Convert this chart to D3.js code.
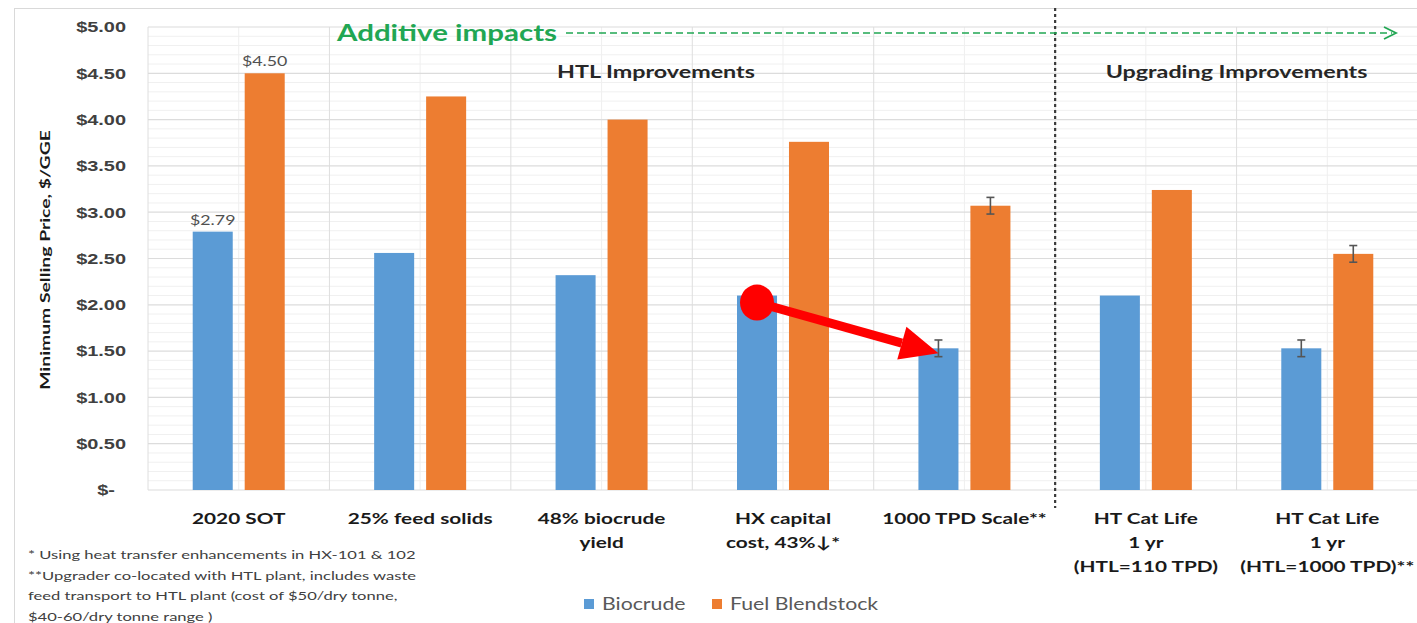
<!DOCTYPE html>
<html>
<head>
<meta charset="utf-8">
<script src="https://cdn.jsdelivr.net/npm/d3@7"></script>
<style>
  html, body { margin: 0; padding: 0; background: #ffffff; }
  svg { display: block; font-family: Lato, "Open Sans", sans-serif; }
</style>
</head>
<body>
<svg id="chart" width="1417" height="623"></svg>
<script>
// Scenario categories (x axis), each label split into lines
const categories = ["2020 SOT", "25% feed solids", "48% biocrude yield", "HX capital cost", "1000 TPD Scale", "HT Cat Life 110", "HT Cat Life 1000"];
const categoryLines = [
  ["2020 SOT"],
  ["25% feed solids"],
  ["48% biocrude", "yield"],
  ["HX capital", "cost, 43%\u2193*"],
  ["1000 TPD Scale**"],
  ["HT Cat Life", "1 yr", "(HTL=110 TPD)"],
  ["HT Cat Life", "1 yr", "(HTL=1000 TPD)**"]
];
const seriesNames = ["Biocrude", "Fuel Blendstock"];
// Minimum selling price, $/GGE
const biocrude = [2.79, 2.56, 2.32, 2.10, 1.53, 2.10, 1.53];
const fuelBlendstock = [4.50, 4.25, 4.00, 3.76, 3.07, 3.24, 2.55];
// Error bar half-ranges (null = none)
const biocrudeErr = [null, null, null, null, 0.09, null, 0.09];
const fuelErr = [null, null, null, null, 0.09, null, 0.09];
// Value labels shown on the first scenario
const valueLabels = [{ series: 0, cat: 0 }, { series: 1, cat: 0 }];
const yTicks = [0, 0.5, 1, 1.5, 2, 2.5, 3, 3.5, 4, 4.5, 5];
const footnotes = [
  "*  Using heat transfer enhancements in HX-101 & 102",
  "**Upgrader co-located with HTL plant, includes waste",
  "feed transport to HTL plant (cost of $50/dry tonne,",
  "$40-60/dry tonne range )"
];

const colors = ["#5b9bd5", "#ed7d31"];
const svg = d3.select("#chart");

// the slide's text is set wide; stretch glyphs horizontally
const SX = 1.33;
function stretch(sel, sx = SX, extra = "") {
  sel.each(function () {
    const t = d3.select(this);
    const tx = +t.attr("x") || 0, ty = +t.attr("y") || 0;
    t.attr("x", 0).attr("y", 0)
      .attr("transform", `translate(${tx},${ty}) ${extra} scale(${sx},1)`);
    t.selectAll("tspan").attr("x", 0);
  });
}

const plot = { left: 148, right: 1418, top: 27, bottom: 490 };

const x0 = d3.scaleBand().domain(categories).range([plot.left, plot.right]).padding(0);
const bw = x0.bandwidth();
const x1 = d3.scaleBand().domain(seriesNames).range([bw / 2 - 46, bw / 2 + 46]).paddingInner(0.23);
const y = d3.scaleLinear().domain([0, 5]).range([plot.bottom, plot.top]);

// outer chart frame
svg.append("rect").attr("x", 14.5).attr("y", 8.5).attr("width", 1420).attr("height", 640)
  .attr("fill", "none").attr("stroke", "#d9d9d9").attr("stroke-width", 1);

// minor horizontal gridlines
const grid = svg.append("g");
grid.selectAll("line.minor").data(d3.range(0.1, 5, 0.1).filter(v => Math.abs(v * 2 - Math.round(v * 2)) > 0.01))
  .join("line").attr("class", "minor")
  .attr("x1", plot.left).attr("x2", plot.right)
  .attr("y1", d => y(d)).attr("y2", d => y(d))
  .attr("stroke", "#f0f0f0").attr("stroke-width", 1);
// minor vertical gridlines at category centres
grid.selectAll("line.vmin").data(categories).join("line").attr("class", "vmin")
  .attr("x1", d => x0(d) + bw / 2).attr("x2", d => x0(d) + bw / 2)
  .attr("y1", plot.top).attr("y2", plot.bottom)
  .attr("stroke", "#efefef").attr("stroke-width", 1);
// major vertical gridlines at category boundaries
grid.selectAll("line.vmaj").data(categories).join("line").attr("class", "vmaj")
  .attr("x1", d => x0(d)).attr("x2", d => x0(d))
  .attr("y1", plot.top).attr("y2", plot.bottom)
  .attr("stroke", "#dedede").attr("stroke-width", 1);
// major horizontal gridlines
grid.selectAll("line.major").data(yTicks).join("line").attr("class", "major")
  .attr("x1", plot.left).attr("x2", plot.right)
  .attr("y1", d => y(d)).attr("y2", d => y(d))
  .attr("stroke", "#dcdcdc").attr("stroke-width", 1.2);

// y axis labels
const yAxis = d3.axisLeft(y).tickValues(yTicks).tickSize(0).tickPadding(0)
  .tickFormat(d => d === 0 ? "$-" : "$" + d.toFixed(2));
const ya = svg.append("g").attr("transform", `translate(126,0)`).call(yAxis);
ya.select(".domain").remove();
ya.selectAll("text").attr("font-size", 15).attr("fill", "#404040").attr("font-weight", 600)
  .attr("transform", d => `translate(${d === 0 ? -11 : 0},0) scale(${SX},1)`);

// y axis title
const yTitle = svg.append("text")
  .attr("text-anchor", "middle").attr("font-size", 14).attr("font-weight", 700).attr("fill", "#1a1a1a")
  .attr("transform", `translate(50,260) rotate(-90) scale(1.38,1)`)
  .text("Minimum Selling Price, $/GGE");

// bars
const rows = categories.map((c, i) => ({
  cat: c,
  vals: [
    { s: seriesNames[0], v: biocrude[i], e: biocrudeErr[i], k: 0 },
    { s: seriesNames[1], v: fuelBlendstock[i], e: fuelErr[i], k: 1 }
  ]
}));
const groups = svg.append("g").selectAll("g").data(rows).join("g")
  .attr("transform", d => `translate(${x0(d.cat)},0)`);
groups.selectAll("rect").data(d => d.vals).join("rect")
  .attr("x", d => x1(d.s)).attr("width", x1.bandwidth())
  .attr("y", d => y(d.v)).attr("height", d => y(0) - y(d.v))
  .attr("fill", d => colors[d.k]);

// error bars
const eb = groups.selectAll("g.err").data(d => d.vals.filter(v => v.e !== null)).join("g").attr("class", "err");
const ebx = d => x1(d.s) + x1.bandwidth() / 2;
eb.append("line")
  .attr("x1", ebx).attr("x2", ebx)
  .attr("y1", d => y(d.v + d.e)).attr("y2", d => y(d.v - d.e))
  .attr("stroke", "#555").attr("stroke-width", 1.6);
eb.append("line")
  .attr("x1", d => ebx(d) - 4).attr("x2", d => ebx(d) + 4)
  .attr("y1", d => y(d.v + d.e)).attr("y2", d => y(d.v + d.e))
  .attr("stroke", "#555").attr("stroke-width", 1.6);
eb.append("line")
  .attr("x1", d => ebx(d) - 4).attr("x2", d => ebx(d) + 4)
  .attr("y1", d => y(d.v - d.e)).attr("y2", d => y(d.v - d.e))
  .attr("stroke", "#555").attr("stroke-width", 1.6);

// value labels
const seriesVals = [biocrude, fuelBlendstock];
const vl = svg.append("g").selectAll("text").data(valueLabels).join("text")
  .attr("x", d => x0(categories[d.cat]) + x1(seriesNames[d.series]) + x1.bandwidth() / 2)
  .attr("y", d => y(seriesVals[d.series][d.cat]) - 7)
  .attr("text-anchor", "middle").attr("font-size", 14).attr("fill", "#505050")
  .text(d => "$" + seriesVals[d.series][d.cat].toFixed(2));
stretch(vl, 1.27);

// category labels
const xl = svg.append("g").selectAll("text").data(categories).join("text")
  .attr("x", d => x0(d) + bw / 2).attr("y", 524)
  .attr("text-anchor", "middle").attr("font-size", 16).attr("font-weight", 700).attr("fill", "#1a1a1a");
xl.selectAll("tspan").data((d, i) => categoryLines[i]).join("tspan")
  .attr("dy", (d, i) => i === 0 ? 0 : 24)
  .text(d => d);
stretch(xl, 1.3);

// section divider between HTL and upgrading scenarios
const divX = x0(categories[5]);
svg.append("line").attr("x1", divX).attr("x2", divX).attr("y1", 8).attr("y2", 508)
  .attr("stroke", "#3a3a3a").attr("stroke-width", 2.2).attr("stroke-dasharray", "3,3");

// section headings
const heads = svg.append("g");
heads.append("text").attr("x", x0(categories[2]) + bw * 0.8).attr("y", 78)
  .attr("text-anchor", "middle").attr("font-size", 17).attr("font-weight", 700).attr("fill", "#262626")
  .text("HTL Improvements");
heads.append("text").attr("x", x0(categories[6])).attr("y", 78)
  .attr("text-anchor", "middle").attr("font-size", 17).attr("font-weight", 700).attr("fill", "#262626")
  .text("Upgrading Improvements");
stretch(heads.selectAll("text"), 1.37);

// additive impacts banner with dashed arrow
const green = "#21a653";
const banner = svg.append("text").attr("x", 337).attr("y", 41).attr("font-size", 22.5).attr("font-weight", 700)
  .attr("fill", green).text("Additive impacts");
stretch(banner, 1.31);
svg.append("line").attr("x1", 566).attr("x2", 1392).attr("y1", 33).attr("y2", 33)
  .attr("stroke", green).attr("stroke-width", 1.6).attr("stroke-dasharray", "7,4");
svg.append("path").attr("d", "M1384,27 L1396,33 L1384,39")
  .attr("fill", "none").attr("stroke", green).attr("stroke-width", 1.8);

// red arrow from HX capital cost biocrude to 1000 TPD biocrude
const ax1 = x0(categories[3]) + x1(seriesNames[0]) + x1.bandwidth() / 2;
const ay1 = y(biocrude[3]) + 7;
const ax2 = x0(categories[4]) + x1(seriesNames[0]) + x1.bandwidth() / 2;
const ay2 = y(biocrude[4]) + 5;
const ang = Math.atan2(ay2 - ay1, ax2 - ax1);
const headLen = 38, headHalf = 17;
const bx = ax2 - headLen * Math.cos(ang), by = ay2 - headLen * Math.sin(ang);
svg.append("line").attr("x1", ax1).attr("y1", ay1).attr("x2", bx).attr("y2", by)
  .attr("stroke", "#ff0000").attr("stroke-width", 9);
svg.append("path")
  .attr("d", `M${ax2},${ay2} L${bx + headHalf * Math.sin(ang)},${by - headHalf * Math.cos(ang)} L${bx - headHalf * Math.sin(ang)},${by + headHalf * Math.cos(ang)} Z`)
  .attr("fill", "#ff0000");
svg.append("ellipse").attr("cx", ax1).attr("cy", ay1).attr("rx", 17).attr("ry", 18).attr("fill", "#ff0000");

// footnotes
const fn = svg.append("g").selectAll("text").data(footnotes).join("text")
  .attr("x", 28).attr("y", (d, i) => 559 + i * 20.5)
  .attr("font-size", 12).attr("fill", "#404040").text(d => d);
stretch(fn, 1.38);

// legend
const legend = svg.append("g").selectAll("g").data(seriesNames).join("g")
  .attr("transform", (d, i) => `translate(${i === 0 ? 584 : 712},0)`);
legend.append("rect").attr("x", 0).attr("y", 599).attr("width", 10).attr("height", 10)
  .attr("fill", (d, i) => colors[i]);
const lt = legend.append("text").attr("x", 18).attr("y", 610).attr("font-size", 16.5).attr("fill", "#595959")
  .text(d => d);
stretch(lt, 1.29);
</script>
</body>
</html>
